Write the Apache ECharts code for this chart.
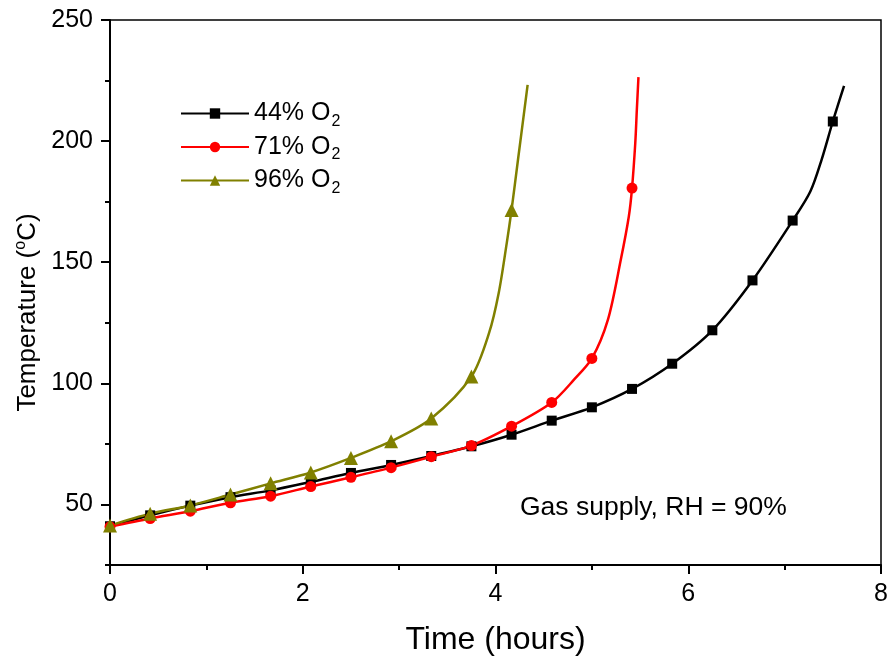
<!DOCTYPE html>
<html>
<head>
<meta charset="utf-8">
<script src="https://cdn.jsdelivr.net/npm/echarts@6/dist/echarts.min.js"></script>
<style>
html,body{margin:0;padding:0;background:#fff;}
#chart{width:890px;height:663px;}
</style>
</head>
<body>
<div id="chart"></div>
<script>
// 数据 (time in minutes, a marker every 25 min)
var names=['44% O2','71% O2','96% O2'];
var time_44=[0,25,50,75,100,125,150,175,200,225,250,275,300,325,350,375,400,425,436,443,450,457];
var temp_44=[41,45.5,49.5,53,55.8,59.3,63,66.3,70,74,78.8,84.6,90.1,97.7,108.1,121.9,142.5,167.2,179.2,192.3,208.1,222.8];
var time_71=[0,25,50,75,100,125,150,175,200,225,250,275,289,300,310,318,323,325,327,328,329];
var temp_71=[40.8,44.2,47.2,50.7,53.4,57.4,61.2,65.2,69.7,74.3,82.3,92.1,101.6,110.3,126.3,151,168.9,180.6,199,213,226.4];
var time_96=[0,25,50,75,100,125,150,175,200,225,236,242,247,250,254,258,260];
var temp_96=[41.3,46.2,49.6,54.1,58.7,63.2,69.2,76.1,85.5,102.8,120.8,137.3,157.9,171.6,192.3,212.9,223.2];
var yLabels=[50,100,150,200,250];

function pts(mins,temps){
    return mins.map(function(m,i){
        var p={value:[m/60,temps[i]]};
        if(m%25!==0) p.symbol='none';
        return p;
    });
}
function line(name,color,symbol,size,mins,temps){
    return {
        name:name,
        type:'line',
        smooth:0.3,
        symbol:symbol,
        symbolSize:size,
        showAllSymbol:true,
        color:color,
        itemStyle:{color:color},
        lineStyle:{color:color,width:2.5},
        data:pts(mins,temps)
    };
}

var chart=echarts.init(document.getElementById('chart'));
var font='Liberation Sans, Arial, sans-serif';
var option={
    animation:false,
    textStyle:{fontFamily:font},
    grid:{left:110,right:9,top:20,bottom:98,outerBoundsMode:'none',containLabel:false,
        show:true,borderColor:'#000',borderWidth:1.5,backgroundColor:'transparent'},
    legend:{
        left:175,top:96,orient:'vertical',
        itemWidth:68,itemHeight:13,itemGap:5,
        data:names,
        formatter:function(n){return '{t|'+n.slice(0,-1)+'}{s|2}';},
        textStyle:{
            color:'#000',
            rich:{
                t:{fontSize:25,fontFamily:font,color:'#000'},
                s:{fontSize:16,fontFamily:font,color:'#000',padding:[16,0,0,1]}
            }
        }
    },
    xAxis:{
        type:'value',min:0,max:8,interval:2,
        name:'Time (hours)',nameLocation:'middle',nameGap:59,
        nameTextStyle:{fontSize:32,color:'#000',fontFamily:font},
        axisLine:{lineStyle:{color:'#000',width:2}},
        axisTick:{length:9,lineStyle:{color:'#000',width:2}},
        minorTick:{show:true,splitNumber:2,length:5,lineStyle:{color:'#000',width:2}},
        axisLabel:{fontSize:25,color:'#000',margin:17,fontFamily:font},
        splitLine:{show:false}
    },
    yAxis:[{
        type:'value',min:25,max:250,interval:25,
        name:'Temperature ({o|o}C)',nameLocation:'middle',nameGap:67,nameRotate:90,
        nameTextStyle:{fontSize:26,color:'#000',fontFamily:font,padding:[0,40,0,0],
            rich:{o:{fontSize:16,fontFamily:font,color:'#000',padding:[0,0,14,0]}}},
        axisLine:{lineStyle:{color:'#000',width:2}},
        axisTick:{length:9,customValues:yLabels,lineStyle:{color:'#000',width:2}},
        axisLabel:{fontSize:25,color:'#000',margin:17,fontFamily:font,customValues:yLabels,
            formatter:function(v){return v%50===0?v:'';}},
        splitLine:{show:false}
    },{
        type:'value',min:25,max:250,interval:25,position:'left',
        axisLine:{show:false},
        axisTick:{length:5,lineStyle:{color:'#000',width:2}},
        axisLabel:{show:false},
        splitLine:{show:false}
    }],
    graphic:[{
        type:'text',left:520,top:494,
        style:{text:'Gas supply, RH = 90%',fontSize:26.5,fill:'#000',fontFamily:font}
    }],
    series:[
        line(names[0],'#000000','rect',10,time_44,temp_44),
        line(names[1],'#ff0000','circle',11,time_71,temp_71),
        line(names[2],'#808000','triangle',14,time_96,temp_96)
    ]
};
chart.setOption(option);
</script>
</body>
</html>
